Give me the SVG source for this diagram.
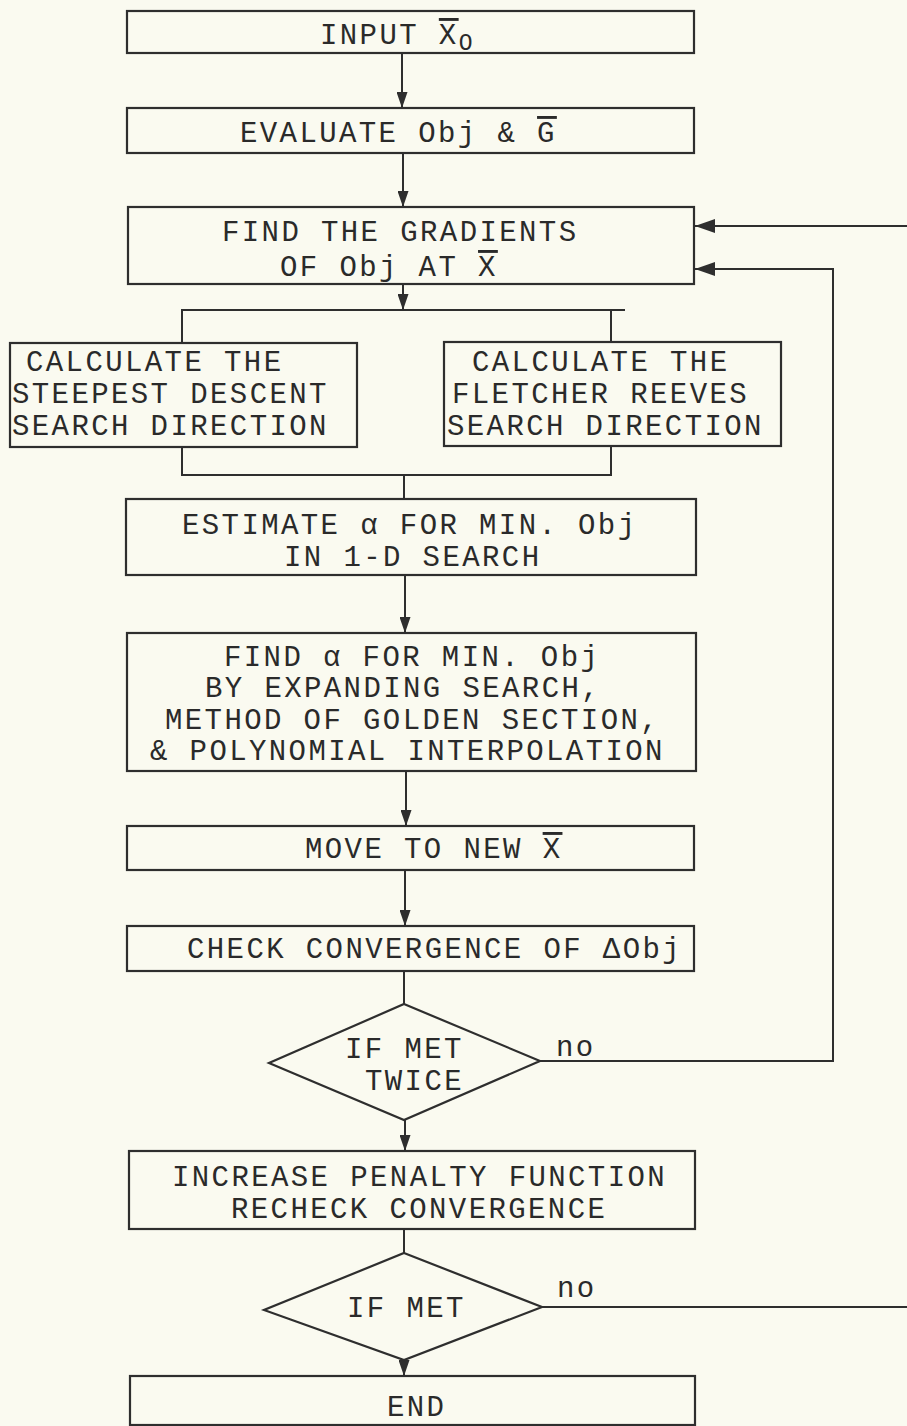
<svg xmlns="http://www.w3.org/2000/svg" width="907" height="1426" viewBox="0 0 907 1426">
<defs>
<style>
.bg{fill:#fafaf0}
.box{fill:none;stroke:#2e2e2e;stroke-width:2.2}
.ln{fill:none;stroke:#2e2e2e;stroke-width:2}
.t{font-family:"Liberation Mono","DejaVu Sans Mono",monospace;font-size:29px;letter-spacing:2.4px;fill:#2a2a2a}
.ov{text-decoration:overline}
.sub{font-size:23px;letter-spacing:0}
</style>
<marker id="ah" markerWidth="16" markerHeight="11" refX="16" refY="5.5" orient="auto" markerUnits="userSpaceOnUse">
<path d="M0,0 L16,5.5 L0,11 Z" fill="#2e2e2e"/>
</marker>
<marker id="ahL" markerWidth="20" markerHeight="14" refX="20" refY="7" orient="auto" markerUnits="userSpaceOnUse">
<path d="M0,0 L20,7 L0,14 Z" fill="#2e2e2e"/>
</marker>
</defs>
<rect class="bg" x="0" y="0" width="907" height="1426"/>

<g id="connectors">
<line class="ln" x1="402" y1="53" x2="402" y2="108" marker-end="url(#ah)"/>
<line class="ln" x1="403" y1="153" x2="403" y2="207" marker-end="url(#ah)"/>
<line class="ln" x1="403" y1="284" x2="403" y2="310" marker-end="url(#ah)"/>
<polyline class="ln" points="182,343 182,310 625,310"/>
<line class="ln" x1="611" y1="310" x2="611" y2="342"/>
<polyline class="ln" points="182,447 182,475 611,475 611,446"/>
<line class="ln" x1="404" y1="475" x2="404" y2="499"/>
<line class="ln" x1="405" y1="575" x2="405" y2="633" marker-end="url(#ah)"/>
<line class="ln" x1="406" y1="771" x2="406" y2="826" marker-end="url(#ah)"/>
<line class="ln" x1="405" y1="870" x2="405" y2="926" marker-end="url(#ah)"/>
<line class="ln" x1="404" y1="971" x2="404" y2="1004"/>
<line class="ln" x1="405" y1="1120" x2="405" y2="1151" marker-end="url(#ah)"/>
<line class="ln" x1="404" y1="1229" x2="404" y2="1253"/>
<line class="ln" x1="404" y1="1360" x2="404" y2="1376" marker-end="url(#ah)"/>
<polyline class="ln" points="540,1061 833,1061 833,269 695,269" marker-end="url(#ahL)"/>
<line class="ln" x1="907" y1="226" x2="695" y2="226" marker-end="url(#ahL)"/>
<line class="ln" x1="542" y1="1307" x2="907" y2="1307"/>
<text class="t" x="556" y="1056">no</text>
<text class="t" x="557" y="1297">no</text>
</g>

<g id="input">
<rect class="box" x="127" y="11" width="567" height="42"/>
<text class="t" x="320" y="44">INPUT <tspan class="ov">X</tspan><tspan class="sub" dy="6">O</tspan></text>
</g>

<g id="evaluate">
<rect class="box" x="127" y="108" width="567" height="45"/>
<text class="t" x="240" y="142">EVALUATE Obj &amp; <tspan class="ov">G</tspan></text>
</g>

<g id="gradients">
<rect class="box" x="128" y="207" width="566" height="77"/>
<text class="t" x="222" y="241">FIND THE GRADIENTS</text>
<text class="t" x="280" y="276">OF Obj AT <tspan class="ov">X</tspan></text>
</g>

<g id="steepest">
<rect class="box" x="10" y="343" width="347" height="104"/>
<text class="t" x="26" y="371">CALCULATE THE</text>
<text class="t" x="12" y="403">STEEPEST DESCENT</text>
<text class="t" x="12" y="435">SEARCH DIRECTION</text>
</g>

<g id="fletcher">
<rect class="box" x="444" y="342" width="337" height="104"/>
<text class="t" x="472" y="371">CALCULATE THE</text>
<text class="t" x="452" y="403">FLETCHER REEVES</text>
<text class="t" x="447" y="435">SEARCH DIRECTION</text>
</g>

<g id="estimate">
<rect class="box" x="126" y="499" width="570" height="76"/>
<text class="t" x="182" y="534">ESTIMATE α FOR MIN. Obj</text>
<text class="t" x="284" y="566">IN 1-D SEARCH</text>
</g>

<g id="find-alpha">
<rect class="box" x="127" y="633" width="569" height="138"/>
<text class="t" x="224" y="666">FIND α FOR MIN. Obj</text>
<text class="t" x="205" y="697">BY EXPANDING SEARCH,</text>
<text class="t" x="165" y="729">METHOD OF GOLDEN SECTION,</text>
<text class="t" x="150" y="760">&amp; POLYNOMIAL INTERPOLATION</text>
</g>

<g id="move">
<rect class="box" x="127" y="826" width="567" height="44"/>
<text class="t" x="305" y="858">MOVE TO NEW <tspan class="ov">X</tspan></text>
</g>

<g id="check">
<rect class="box" x="127" y="926" width="567" height="45"/>
<text class="t" x="187" y="958">CHECK CONVERGENCE OF ΔObj</text>
</g>

<g id="met-twice">
<polygon class="box" points="404,1004 540,1061 404,1120 269,1063"/>
<text class="t" x="345" y="1058">IF MET</text>
<text class="t" x="365" y="1090">TWICE</text>
</g>

<g id="penalty">
<rect class="box" x="129" y="1151" width="566" height="78"/>
<text class="t" x="172" y="1186">INCREASE PENALTY FUNCTION</text>
<text class="t" x="231" y="1218">RECHECK CONVERGENCE</text>
</g>

<g id="met">
<polygon class="box" points="404,1253 542,1307 404,1360 264,1310"/>
<text class="t" x="347" y="1317">IF MET</text>
</g>

<g id="end">
<rect class="box" x="130" y="1376" width="565" height="49"/>
<text class="t" x="387" y="1416">END</text>
</g>
</svg>
